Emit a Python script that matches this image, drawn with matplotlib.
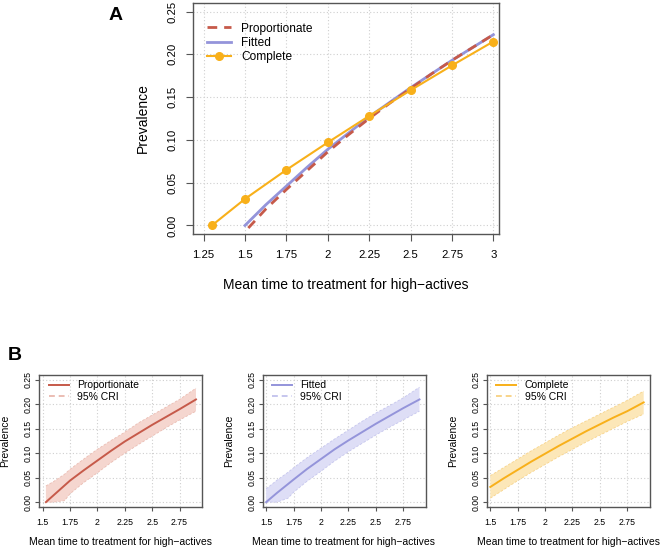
import matplotlib
matplotlib.use("Agg")
import matplotlib.pyplot as plt
from matplotlib.lines import Line2D

plt.rcParams['font.family'] = ['Liberation Sans', 'DejaVu Sans']

# ---------------- Data ----------------
# Panel A
complete_x = [1.3, 1.5, 1.75, 2.0, 2.25, 2.5, 2.75, 3.0]
complete_y = [0.000, 0.031, 0.065, 0.097, 0.128, 0.158, 0.187, 0.215]

fitted_x = [1.5, 1.625, 1.75, 1.875, 2.0, 2.125, 2.25, 2.375, 2.5, 2.625, 2.75, 2.875, 3.0]
fitted_y = [0.000, 0.024, 0.046, 0.068, 0.089, 0.108, 0.127, 0.144, 0.161, 0.177, 0.193, 0.208, 0.223]

prop_x = [1.52, 1.625, 1.75, 1.875, 2.0, 2.125, 2.25, 2.375, 2.5, 2.625, 2.75, 2.875, 3.0]
prop_y = [-0.003, 0.019, 0.042, 0.064, 0.086, 0.106, 0.125, 0.143, 0.160, 0.177, 0.193, 0.208, 0.223]

a_xticks = [1.25, 1.5, 1.75, 2.0, 2.25, 2.5, 2.75, 3.0]
a_xticklabels = ["1.25", "1.5", "1.75", "2", "2.25", "2.5", "2.75", "3"]
yticks = [0.0, 0.05, 0.10, 0.15, 0.20, 0.25]
yticklabels = ["0.00", "0.05", "0.10", "0.15", "0.20", "0.25"]

# Panel B
b_prop_x = [1.53, 1.6, 1.7, 1.75, 1.875, 2.0, 2.125, 2.25, 2.375, 2.5, 2.625, 2.75, 2.9]
b_prop_mean = [0.000, 0.014, 0.034, 0.044, 0.065, 0.085, 0.105, 0.124, 0.141, 0.158, 0.174, 0.190, 0.210]
b_prop_low = [0.000, 0.000, 0.003, 0.017, 0.040, 0.060, 0.081, 0.100, 0.118, 0.135, 0.152, 0.168, 0.186]
b_prop_up = [0.033, 0.042, 0.057, 0.067, 0.088, 0.108, 0.126, 0.143, 0.162, 0.178, 0.194, 0.210, 0.233]

b_fit_x = [1.5, 1.6, 1.7, 1.75, 1.875, 2.0, 2.125, 2.25, 2.375, 2.5, 2.625, 2.75, 2.9]
b_fit_mean = [0.000, 0.019, 0.037, 0.046, 0.068, 0.088, 0.108, 0.126, 0.143, 0.160, 0.176, 0.192, 0.210]
b_fit_low = [0.000, 0.000, 0.008, 0.020, 0.043, 0.063, 0.084, 0.103, 0.120, 0.137, 0.153, 0.168, 0.186]
b_fit_up = [0.027, 0.045, 0.061, 0.070, 0.091, 0.110, 0.129, 0.147, 0.165, 0.182, 0.197, 0.213, 0.235]

b_comp_x = [1.5, 1.625, 1.75, 1.875, 2.0, 2.125, 2.25, 2.375, 2.5, 2.625, 2.75, 2.9]
b_comp_mean = [0.031, 0.049, 0.066, 0.083, 0.099, 0.115, 0.130, 0.145, 0.159, 0.173, 0.186, 0.204]
b_comp_low = [0.008, 0.026, 0.044, 0.061, 0.077, 0.093, 0.108, 0.123, 0.137, 0.151, 0.165, 0.180]
b_comp_up = [0.054, 0.071, 0.088, 0.105, 0.121, 0.137, 0.152, 0.166, 0.180, 0.194, 0.208, 0.227]

b_xticks = [1.5, 1.75, 2.0, 2.25, 2.5, 2.75]
b_xticklabels = ["1.5", "1.75", "2", "2.25", "2.5", "2.75"]

series_names = ["Proportionate", "Fitted", "Complete"]
col_prop = "#C65A4A"
col_fit = "#9494DA"
col_comp = "#F8B01A"
band_prop = "#F5D6CF"
band_fit = "#DEDEF6"
band_comp = "#FCE7B8"
edge_prop = "#EBBDB3"
edge_fit = "#C6C6EE"
edge_comp = "#F8D48A"

spine_col = "#555555"
grid_col = "#CFCFCF"
xlab = "Mean time to treatment for high\u2212actives"

fig = plt.figure(figsize=(6.61, 5.48), dpi=100)

def style_axes(ax, tick_fs, tl_len, x_pad, y_pad):
    for s in ax.spines.values():
        s.set_color(spine_col)
        s.set_linewidth(1.0)
    ax.grid(True, color=grid_col, linestyle=(0, (1, 2)), linewidth=0.8)
    ax.set_axisbelow(True)
    ax.tick_params(axis='both', direction='out', length=tl_len, width=0.8,
                   color=spine_col, labelsize=tick_fs)
    ax.tick_params(axis='x', pad=x_pad)
    ax.tick_params(axis='y', pad=y_pad)
    for lab in ax.get_yticklabels():
        lab.set_rotation(90)
        lab.set_va('center')

# ---------------- Panel A ----------------
axA = fig.add_axes([193/661, 1-234/548, 306/661, 231/548])
axA.plot(prop_x, prop_y, color=col_prop, lw=2.0, ls=(0, (3.5, 2.5)), zorder=4)
axA.plot(fitted_x, fitted_y, color=col_fit, lw=2.0, zorder=3)
axA.plot(complete_x, complete_y, color=col_comp, lw=1.5, marker='o', ms=5.5, zorder=5)
axA.set_xlim(1.186, 3.034)
axA.set_ylim(-0.01, 0.26)
axA.set_xticks(a_xticks)
axA.set_xticklabels(a_xticklabels)
axA.set_yticks(yticks)
axA.set_yticklabels(yticklabels)
style_axes(axA, 8.2, 5, 6.5, 6.5)
axA.set_xlabel(xlab, fontsize=10)
axA.set_ylabel("Prevalence", fontsize=10)
axA.xaxis.set_label_coords(0.5, -0.19)
axA.yaxis.set_label_coords(-0.14, 0.5)
handlesA = [Line2D([], [], color=col_prop, lw=2.0, ls=(0, (3.5, 2.5))),
            Line2D([], [], color=col_fit, lw=2.0),
            Line2D([], [], color=col_comp, lw=1.5, marker='o', ms=5.5)]
axA.legend(handlesA, series_names, loc='upper left', bbox_to_anchor=(0.045, 0.915),
           frameon=False, fontsize=8.6, handlelength=2.0, handletextpad=0.9,
           labelspacing=0.2, borderpad=0, borderaxespad=0)
fig.text(116/661, 1-15/548, "A", fontsize=14, fontweight='bold', ha='center', va='center')

# ---------------- Panel B ----------------
b_lefts = [39/661, 262.5/661, 486.7/661]
b_width = 163/661
b_bottom = 1-507/548
b_height = 132/548
b_data = [
    (b_prop_x, b_prop_mean, b_prop_low, b_prop_up, col_prop, band_prop, edge_prop),
    (b_fit_x, b_fit_mean, b_fit_low, b_fit_up, col_fit, band_fit, edge_fit),
    (b_comp_x, b_comp_mean, b_comp_low, b_comp_up, col_comp, band_comp, edge_comp),
]
for i, (bx, bm, bl, bu, c, bc, ec) in enumerate(b_data):
    ax = fig.add_axes([b_lefts[i], b_bottom, b_width, b_height])
    ax.fill_between(bx, bl, bu, facecolor=bc, edgecolor='none', lw=0, zorder=2)
    ax.plot(bx, bl, color=ec, lw=0.6, ls=(0, (3, 2)), zorder=3)
    ax.plot(bx, bu, color=ec, lw=0.6, ls=(0, (3, 2)), zorder=3)
    ax.plot(bx, bm, color=c, lw=1.4, zorder=4)
    ax.set_xlim(1.467, 2.955)
    ax.set_ylim(-0.01, 0.26)
    ax.set_xticks(b_xticks)
    ax.set_xticklabels(b_xticklabels)
    ax.set_yticks(yticks)
    ax.set_yticklabels(yticklabels)
    style_axes(ax, 6.3, 3, 5, 1.5)
    ax.set_xlabel(xlab, fontsize=7.5)
    ax.set_ylabel("Prevalence", fontsize=7.5)
    ax.xaxis.set_label_coords(0.5, -0.225)
    ax.yaxis.set_label_coords(-0.175, 0.5)
    hs = [Line2D([], [], color=c, lw=1.4),
          Line2D([], [], color=ec, lw=1.4, ls=(0, (3, 2)))]
    ax.legend(hs, [series_names[i], "95% CRI"], loc='upper left',
              bbox_to_anchor=(0.06, 0.96), frameon=False, fontsize=7.5,
              handlelength=1.9, handletextpad=0.8, labelspacing=0.15,
              borderpad=0, borderaxespad=0)

fig.text(15/661, 1-355/548, "B", fontsize=14, fontweight='bold', ha='center', va='center')

fig.savefig("out.png", dpi=100)
